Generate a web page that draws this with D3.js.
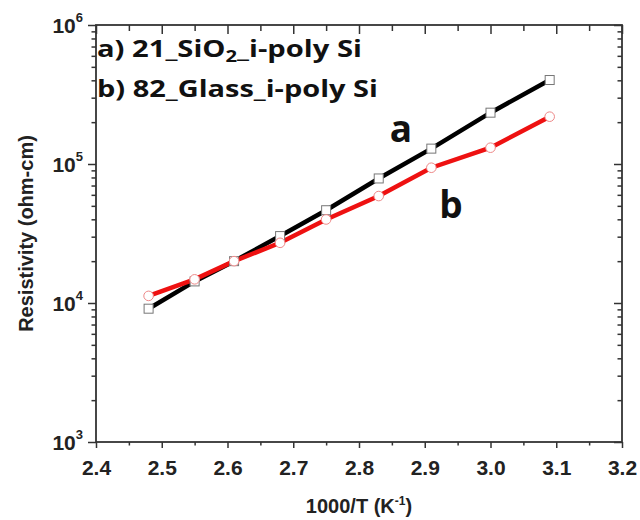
<!DOCTYPE html>
<html><head><meta charset="utf-8">
<script src="https://cdn.jsdelivr.net/npm/d3@7"></script>
<style>body{margin:0;background:#fff}svg{display:block}</style>
</head><body>
<script>
const xValues = [2.48, 2.55, 2.61, 2.68, 2.75, 2.83, 2.91, 3.00, 3.09];
const seriesA = [9100, 14300, 20000, 30300, 46500, 78700, 129000, 234000, 402000];
const seriesB = [11250, 14800, 20000, 27100, 39900, 58800, 94000, 131000, 219000];
const xTicks = [2.4, 2.5, 2.6, 2.7, 2.8, 2.9, 3.0, 3.1, 3.2];
const yTicks = [1e3, 1e4, 1e5, 1e6];
const yExp = ["3", "4", "5", "6"];
const legendLines = ["a) 21_SiO", "b) 82_Glass_i-poly Si"];

const W = 640, H = 520;
const m = {left: 96, right: 18, top: 25, bottom: 78};
const svg = d3.select("body").append("svg").attr("width", W).attr("height", H);
const x = d3.scaleLinear().domain([2.4, 3.2]).range([m.left, W - m.right]);
const y = d3.scaleLog().domain([1e3, 1e6]).range([H - m.bottom, m.top]);

const minorY = [];
for (let e = 3; e < 6; e++) for (let k = 2; k <= 9; k++) minorY.push(k * Math.pow(10, e));
const minorX = d3.range(0, 8).map(i => 2.45 + i * 0.1);

const axisColor = "#333";
const af = "Liberation Sans, Arial, sans-serif";
function style(g) {
  g.select(".domain").remove();
  g.selectAll("line").attr("stroke", axisColor).attr("stroke-width", 1.5);
}
// bottom
svg.append("g").attr("transform", `translate(0,${y(1e3)})`)
  .call(d3.axisBottom(x).tickValues(xTicks).tickSize(6).tickFormat(d3.format(".1f")))
  .call(style)
  .call(g => g.selectAll("text").attr("font-family", af).attr("y", 33).attr("dy", null)
    .attr("font-weight", "bold").attr("font-size", 21).attr("fill", "#222"));
svg.append("g").attr("transform", `translate(0,${y(1e3)})`)
  .call(d3.axisBottom(x).tickValues(minorX).tickSize(3.5).tickFormat(""))
  .call(style);
// top (inward)
svg.append("g").attr("transform", `translate(0,${y(1e6)})`)
  .call(d3.axisBottom(x).tickValues(xTicks).tickSize(9).tickFormat(""))
  .call(style);
svg.append("g").attr("transform", `translate(0,${y(1e6)})`)
  .call(d3.axisBottom(x).tickValues(minorX).tickSize(6).tickFormat(""))
  .call(style);
// left
svg.append("g").attr("transform", `translate(${x(2.4)},0)`)
  .call(d3.axisLeft(y).tickValues(yTicks).tickSize(8).tickFormat(""))
  .call(style);
svg.append("g").attr("transform", `translate(${x(2.4)},0)`)
  .call(d3.axisLeft(y).tickValues(minorY).tickSize(4.5).tickFormat(""))
  .call(style);
// right (inward)
svg.append("g").attr("transform", `translate(${x(3.2)},0)`)
  .call(d3.axisLeft(y).tickValues(yTicks).tickSize(8).tickFormat(""))
  .call(style);
svg.append("g").attr("transform", `translate(${x(3.2)},0)`)
  .call(d3.axisLeft(y).tickValues(minorY).tickSize(4.5).tickFormat(""))
  .call(style);

// y tick labels
yTicks.forEach((v, i) => {
  const t = svg.append("text").attr("x", x(2.4) - 13).attr("y", y(v) + 8)
    .attr("text-anchor", "end").attr("font-family", af)
    .attr("font-weight", "bold").attr("font-size", 21).attr("fill", "#222");
  t.append("tspan").text("10");
  t.append("tspan").attr("dy", -11).attr("font-size", 13).text(yExp[i]);
});

// frame
svg.append("rect").attr("x", x(2.4)).attr("y", y(1e6))
  .attr("width", x(3.2) - x(2.4)).attr("height", y(1e3) - y(1e6))
  .attr("fill", "none").attr("stroke", axisColor).attr("stroke-width", 1.8);

// axis titles
const xt = svg.append("text").attr("x", (x(2.4) + x(3.2)) / 2).attr("y", 513)
  .attr("text-anchor", "middle").attr("font-family", af)
  .attr("font-weight", "bold").attr("font-size", 20).attr("fill", "#222");
xt.append("tspan").text("1000/T (K");
xt.append("tspan").attr("dy", -8).attr("font-size", 12).text("-1");
xt.append("tspan").attr("dy", 8).text(")");

svg.append("text").attr("transform", `translate(33,${(y(1e3) + y(1e6)) / 2}) rotate(-90)`)
  .attr("text-anchor", "middle").attr("font-family", af)
  .attr("font-weight", "bold").attr("font-size", 20).attr("fill", "#222")
  .text("Resistivity (ohm-cm)");

// lines
const ptsA = xValues.map((d, i) => [d, seriesA[i]]);
const ptsB = xValues.map((d, i) => [d, seriesB[i]]);
const line = d3.line().x(d => x(d[0])).y(d => y(d[1]));
svg.append("path").attr("d", line(ptsA)).attr("fill", "none").attr("stroke", "#000").attr("stroke-width", 4.5);
svg.append("path").attr("d", line(ptsB)).attr("fill", "none").attr("stroke", "#ee1111").attr("stroke-width", 4.5);
svg.selectAll(".sq").data(ptsA).enter().append("rect")
  .attr("x", d => x(d[0]) - 4.5).attr("y", d => y(d[1]) - 4.5)
  .attr("width", 9).attr("height", 9).attr("fill", "#fff").attr("stroke", "#777").attr("stroke-width", 1);
svg.selectAll(".ci").data(ptsB).enter().append("circle")
  .attr("cx", d => x(d[0])).attr("cy", d => y(d[1])).attr("r", 4.8)
  .attr("fill", "#fff").attr("stroke", "#e88").attr("stroke-width", 1);

// legend text (stretched horizontally to match reference widths)
const lf = "Open Sans, Lato, sans-serif";
function stretch(sel, x0, targetW) {
  const bw = sel.node().getBBox().width;
  const s = targetW / bw;
  sel.attr("transform", `translate(${x0},0) scale(${s},1) translate(${-x0},0)`);
}
const l1 = svg.append("text").attr("x", 97).attr("y", 57).attr("font-family", lf)
  .attr("font-weight", "bold").attr("font-size", 23).attr("fill", "#111");
l1.append("tspan").text(legendLines[0]);
l1.append("tspan").attr("dy", 5).attr("font-size", 16).text("2");
l1.append("tspan").attr("dy", -5).text("_i-poly Si");
stretch(l1, 97, 265);
const l2 = svg.append("text").attr("x", 97).attr("y", 97).attr("font-family", lf)
  .attr("font-weight", "bold").attr("font-size", 23).attr("fill", "#111").text(legendLines[1]);
stretch(l2, 97, 281);

// series labels
svg.append("text").attr("x", 401).attr("y", 142).attr("text-anchor", "middle")
  .attr("font-family", lf).attr("font-weight", "bold").attr("font-size", 37).attr("fill", "#111").text("a");
svg.append("text").attr("x", 451).attr("y", 218).attr("text-anchor", "middle")
  .attr("font-family", lf).attr("font-weight", "bold").attr("font-size", 37).attr("fill", "#111").text("b");
</script>
</body></html>
